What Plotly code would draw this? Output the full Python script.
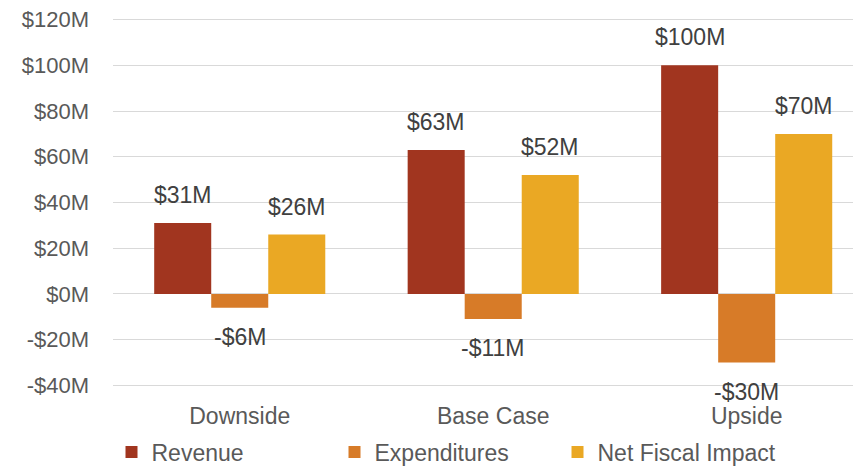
import plotly.graph_objects as go

categories = ["Downside", "Base Case", "Upside"]
revenue = [31, 63, 100]
expenditures = [-6, -11, -30]
net_fiscal = [26, 52, 70]
series_names = ["Revenue", "Expenditures", "Net Fiscal Impact"]
series_colors = ["#A1351F", "#D77B28", "#EAA824"]
tick_vals = [-40, -20, 0, 20, 40, 60, 80, 100, 120]
tick_text = ["-$40M", "-$20M", "$0M", "$20M", "$40M", "$60M", "$80M", "$100M", "$120M"]

FONT = "Liberation Sans, Arial, sans-serif"


def fmt(v):
    return ("-$%dM" % abs(v)) if v < 0 else ("$%dM" % v)


fig = go.Figure()
series = [revenue, expenditures, net_fiscal]
for name, vals, col in zip(series_names, series, series_colors):
    fig.add_trace(go.Bar(x=categories, y=vals, name=name, marker_color=col,
                         marker_line_width=0))

annotations = []
bar_px = 57
for i, vals in enumerate(series):
    for c, v in zip(categories, vals):
        annotations.append(dict(
            x=c, y=v, xref="x", yref="y", text=fmt(v), showarrow=False,
            xshift=(i - 1) * bar_px, yshift=28 if v >= 0 else -29,
            yanchor="middle", font=dict(family=FONT, size=23, color="#404040")))

fig.update_layout(
    width=861, height=466,
    margin=dict(l=105, r=8, t=10, b=87, autoexpand=False),
    paper_bgcolor="white", plot_bgcolor="white",
    barmode="group", bargap=0.325, bargroupgap=0,
    font=dict(family=FONT, size=22, color="#595959"),
    showlegend=True,
    legend=dict(orientation="h", x=-0.002, xanchor="left", y=-0.176, yanchor="middle",
                entrywidth=178, entrywidthmode="pixels",
                font=dict(family=FONT, size=23, color="#595959"),
                bgcolor="rgba(0,0,0,0)"),
    annotations=annotations,
    xaxis=dict(range=[-0.5, 2.451], showgrid=False, showline=False, ticks="",
               ticklabelstandoff=13,
               tickfont=dict(family=FONT, size=23, color="#595959")),
    yaxis=dict(range=[-40.7, 120.7], tickvals=tick_vals, ticktext=tick_text,
               showgrid=True, gridcolor="#D9D9D9", gridwidth=1,
               zeroline=True, zerolinecolor="#D9D9D9", zerolinewidth=1,
               showline=False, ticks="", ticklabelstandoff=23,
               ticklabeloverflow="allow",
               tickfont=dict(family=FONT, size=22, color="#595959")),
)

fig.write_html("out.html")
